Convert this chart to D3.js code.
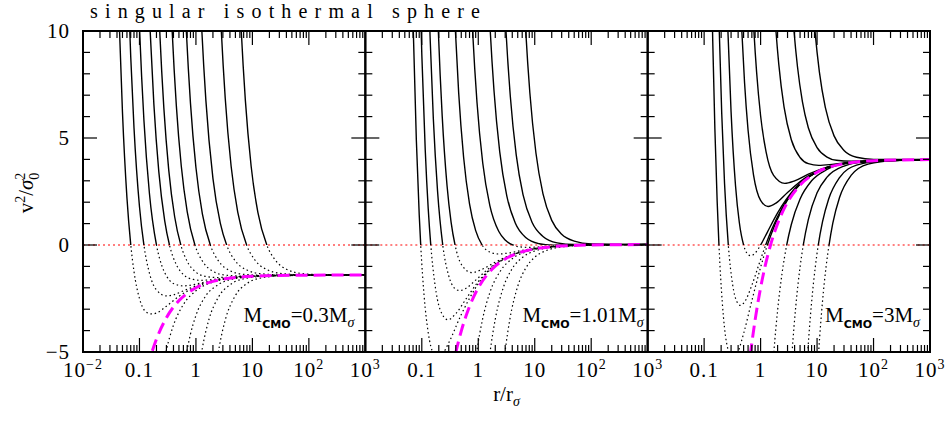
<!DOCTYPE html>
<html>
<meta charset='utf-8'>
<head>
<title>singular isothermal sphere</title>
<script src='https://d3js.org/d3.v7.min.js'></script>
<style>
body {margin: 0; background: #fff;}
text {font-family: 'Liberation Serif', 'Times New Roman', serif; fill: #000;}
</style>
</head>

<body>
<div id='my_dataviz'></div>
<script>

// central mass of each panel, in units of M_sigma
var cmoMasses = ['0.3', '1.01', '3'];

var xTickVals = [0.01, 0.1, 1, 10, 100, 1000];
var xTickText = [['10', '\u22122'], ['0.1', ''], ['1', ''], ['10', ''], ['10', '2'], ['10', '3']];
var yTickVals = [-5, 0, 5, 10];
var yTickText = ['\u22125', '0', '5', '10'];

// curves as [r/r_sigma, v^2/sigma0^2]
var p1Curves = [
  [[0.04,14.2],[0.044,10.27],[0.05,6.2],[0.06,2.21],[0.07,0.03],[0.08,-1.24],[0.1,-2.5],[0.13,-3.12],[0.165,-3.22],[0.2,-3.18],[0.3,-2.86],[0.5,-2.4],[1,-1.95],[2,-1.69],[5,-1.52],[20,-1.43],[1000,-1.4]],
  [[0.065,11.14],[0.07,8.81],[0.08,5.48],[0.1,1.8],[0.12,-0.01],[0.15,-1.31],[0.2,-2.1],[0.3,-2.38],[0.4,-2.33],[0.6,-2.14],[1,-1.91],[2,-1.68],[5,-1.52],[20,-1.43],[1000,-1.4]],
  [[0.09,13.66],[0.1,10.2],[0.12,5.82],[0.15,2.42],[0.2,0],[0.25,-0.98],[0.3,-1.44],[0.4,-1.8],[0.6,-1.91],[0.8,-1.88],[1.2,-1.78],[2,-1.66],[5,-1.51],[20,-1.43],[1000,-1.4]],
  [[0.14,12.97],[0.155,9.96],[0.18,6.57],[0.22,3.43],[0.28,1.13],[0.34,0],[0.45,-0.92],[0.6,-1.38],[0.9,-1.61],[1.22,-1.65],[2,-1.61],[4,-1.53],[10,-1.46],[30,-1.42],[1000,-1.4]],
  [[0.2,13.9],[0.23,9.83],[0.27,6.42],[0.33,3.5],[0.42,1.32],[0.54,0],[0.7,-0.76],[1,-1.27],[1.5,-1.47],[2.44,-1.52],[4,-1.5],[10,-1.45],[30,-1.42],[1000,-1.4]],
  [[0.34,13.0],[0.38,9.97],[0.45,6.5],[0.55,3.69],[0.7,1.56],[0.96,0],[1.3,-0.75],[2,-1.23],[3,-1.39],[6.2,-1.45],[15,-1.43],[50,-1.41],[1000,-1.4]],
  [[0.6,13.2],[0.68,9.87],[0.8,6.63],[1,3.62],[1.3,1.46],[1.8,0],[2.5,-0.74],[4,-1.2],[7,-1.37],[18.7,-1.42],[50,-1.41],[1000,-1.4]],
  [[1.15,12.64],[1.27,10.06],[1.5,6.76],[2,3.11],[2.7,1.02],[3.5,0],[5,-0.75],[8,-1.17],[15,-1.35],[40,-1.4],[1000,-1.4]],
  [[2.6,11.99],[2.82,9.97],[3.3,6.87],[4.2,3.68],[5.5,1.54],[7.9,0],[11,-0.69],[18,-1.15],[35,-1.34],[100,-1.4],[1000,-1.4]],
  [[5.8,12.29],[6.35,10.01],[7.5,6.77],[9.5,3.68],[12.5,1.52],[18,0],[25,-0.68],[40,-1.13],[80,-1.34],[200,-1.39],[1000,-1.4]],
  [[0.25,-5.98],[0.3,-4.91],[0.4,-3.75],[0.6,-2.78],[1,-2.14],[2,-1.73],[5,-1.53],[20,-1.43],[1000,-1.4]],
  [[0.55,-6.75],[0.65,-5.37],[0.8,-4.17],[1,-3.29],[1.5,-2.37],[2.5,-1.85],[5,-1.57],[15,-1.45],[1000,-1.4]],
  [[1.1,-6.08],[1.3,-4.82],[1.7,-3.48],[2.5,-2.44],[4,-1.86],[8,-1.55],[25,-1.43],[1000,-1.4]],
  [[2.2,-6.01],[2.6,-4.74],[3.3,-3.51],[5,-2.36],[8,-1.8],[15,-1.53],[40,-1.43],[1000,-1.4]]
];
var p1Dashed = [[0.1,-7.4],[0.15,-5.4],[0.2,-4.4],[0.3,-3.4],[0.5,-2.6],[0.7,-2.26],[1,-2.0],[1.5,-1.8],[2,-1.7],[3,-1.6],[5,-1.52],[10,-1.46],[30,-1.42],[100,-1.41],[1000,-1.4]];

var p2Curves = [
  [[0.065,14.6],[0.071,9.84],[0.08,4.93],[0.09,1.41],[0.096,-0.08],[0.11,-2.39],[0.13,-4.1],[0.16,-5.07],[0.19,-5.26],[0.23,-5.11],[0.3,-4.57],[0.5,-3.25],[1,-1.81],[2,-0.94],[5,-0.38],[20,-0.08],[100,0],[1000,0.02]],
  [[0.09,13.5],[0.1,8.92],[0.115,4.45],[0.13,1.69],[0.144,0.02],[0.17,-1.79],[0.21,-3.0],[0.29,-3.49],[0.4,-3.21],[0.6,-2.54],[1,-1.71],[2,-0.92],[5,-0.37],[20,-0.08],[100,0],[1000,0.02]],
  [[0.125,14.2],[0.14,9.77],[0.16,5.91],[0.19,2.52],[0.235,0],[0.3,-1.44],[0.38,-2.02],[0.47,-2.13],[0.6,-2.03],[0.9,-1.64],[1.5,-1.12],[3,-0.6],[8,-0.23],[30,-0.05],[100,0],[1000,0.02]],
  [[0.18,12.9],[0.196,10.04],[0.23,6.01],[0.28,2.77],[0.33,1.07],[0.388,0],[0.5,-0.9],[0.77,-1.29],[1.1,-1.17],[2,-0.8],[4,-0.44],[10,-0.17],[40,-0.03],[1000,0.02]],
  [[0.36,12.5],[0.394,10.0],[0.45,7.1],[0.55,4.1],[0.7,1.92],[0.9,0.67],[1.17,0],[1.6,-0.33],[2.3,-0.42],[3.5,-0.37],[6,-0.25],[15,-0.1],[60,-0.01],[1000,0.02]],
  [[0.72,12.47],[0.8,9.85],[0.95,6.66],[1.2,3.83],[1.6,1.85],[2.3,0.64],[3,0.23],[4.07,0],[5.5,-0.09],[7.8,-0.11],[12,-0.09],[25,-0.05],[100,0],[1000,0.02]],
  [[1.45,12.8],[1.63,10.0],[1.9,7.21],[2.4,4.35],[3.2,2.3],[4.5,1.04],[7,0.34],[12,0.06],[20,-0.01],[40,-0.01],[100,0],[1000,0.02]],
  [[2.8,12.3],[3.1,9.98],[3.7,6.93],[4.7,4.21],[6.2,2.35],[9,1.05],[14,0.4],[25,0.1],[50,0.02],[1000,0.02]],
  [[6.3,12.1],[6.93,10.0],[8.2,7.1],[10.5,4.3],[14,2.39],[20,1.15],[30,0.5],[50,0.18],[100,0.05],[1000,0.02]],
  [[0.8,-6.47],[0.94,-5.0],[1.2,-3.43],[1.6,-2.23],[2.5,-1.19],[4,-0.64],[8,-0.27],[20,-0.09],[100,0],[1000,0.02]],
  [[1.4,-6.47],[1.62,-5.0],[2,-3.47],[2.8,-1.96],[4,-1.1],[6,-0.59],[10,-0.28],[25,-0.08],[100,0],[1000,0.02]],
  [[2.6,-6.47],[2.98,-5.0],[3.6,-3.52],[5,-1.93],[7,-1.06],[10,-0.57],[16,-0.26],[30,-0.09],[100,0],[1000,0.02]]
];
var p2Dashed = [[0.3,-6.71],[0.4,-5.03],[0.5,-4.02],[0.7,-2.87],[1,-2.0],[1.5,-1.33],[2,-0.99],[3,-0.65],[5,-0.38],[10,-0.18],[20,-0.08],[50,-0.02],[100,0],[1000,0.02]];

var p3Curves = [
  [[0.13,14.9],[0.142,9.55],[0.155,5.42],[0.17,2.06],[0.183,0],[0.21,-2.71],[0.25,-4.58],[0.32,-5.34],[0.4,-4.97],[0.5,-4.14],[0.7,-2.6],[1,-1.04],[1.32,0],[1.8,0.96],[3,2.11],[6,3.03],[15,3.6],[50,3.88],[1000,3.99]],
  [[0.17,14.4],[0.186,9.89],[0.205,6.14],[0.23,2.86],[0.268,0],[0.32,-1.86],[0.38,-2.65],[0.44,-2.82],[0.52,-2.66],[0.7,-1.88],[0.95,-0.85],[1.23,0],[1.6,0.77],[2.5,1.81],[5,2.85],[12,3.51],[40,3.85],[1000,3.99]],
  [[0.24,13.7],[0.264,9.97],[0.3,6.22],[0.36,2.76],[0.42,1.05],[0.5,0],[0.58,-0.4],[0.67,-0.5],[0.8,-0.38],[1,0],[1.3,0.57],[2,1.5],[4,2.63],[10,3.42],[30,3.8],[1000,3.99]],
  [[0.42,12.9],[0.465,10.01],[0.52,7.58],[0.6,5.36],[0.75,3.27],[1,2.09],[1.36,1.8],[1.9,1.97],[3,2.45],[6,3.11],[15,3.62],[50,3.88],[1000,3.99]],
  [[0.7,11.84],[0.76,10.03],[0.85,8.07],[1,6.04],[1.25,4.35],[1.7,3.25],[2.68,2.88],[4,3.0],[7,3.31],[15,3.64],[50,3.88],[1000,3.99]],
  [[1.7,11.61],[1.87,10.0],[2.1,8.44],[2.6,6.45],[3.5,4.92],[5,4.09],[7,3.8],[10.7,3.72],[20,3.78],[50,3.89],[1000,3.99]],
  [[3.5,11.65],[3.9,10.0],[4.5,8.33],[5.5,6.7],[7,5.48],[10,4.55],[15,4.11],[22,3.96],[40,3.92],[100,3.95],[1000,3.99]],
  [[8.3,11.4],[9.2,9.97],[11,8.08],[14,6.43],[20,5.1],[30,4.42],[50,4.1],[100,4.0],[1000,4.0]],
  [[1.5,-7.22],[1.72,-4.98],[2,-3.06],[2.4,-1.32],[2.9,0],[3.5,0.96],[5,2.15],[8,3.0],[15,3.53],[40,3.84],[1000,3.99]],
  [[3.2,-7.23],[3.6,-5.06],[4.2,-2.86],[5,-1.03],[5.7,0],[7,1.19],[10,2.44],[15,3.17],[30,3.69],[80,3.91],[1000,3.99]],
  [[6.2,-6.84],[6.85,-4.97],[8,-2.68],[9.3,-1.03],[10.5,0],[12.5,1.09],[16,2.14],[25,3.15],[50,3.73],[150,3.94],[1000,4.0]],
  [[9.5,-7.27],[10.7,-4.95],[12.5,-2.62],[14.5,-0.98],[16.3,0],[19,1.02],[25,2.22],[40,3.25],[80,3.78],[250,3.96],[1000,4.0]]
];
var p3Dashed = [[0.6,-6],[0.667,-5],[0.8,-3.5],[1,-2],[1.2,-1],[1.5,0],[2,1],[3,2],[5,2.8],[10,3.4],[30,3.8],[100,3.94],[1000,3.99]];

var panels = [
  {curves: p1Curves, dashed: p1Dashed},
  {curves: p2Curves, dashed: p2Dashed},
  {curves: p3Curves, dashed: p3Dashed}
];

var W = 949, H = 424;
var margin = {top: 31, right: 19, bottom: 72, left: 83},
    pw = (W - margin.left - margin.right) / 3,
    ph = H - margin.top - margin.bottom;

var svg = d3.select('#my_dataviz')
  .append('svg')
  .attr('width', W)
  .attr('height', H);

var x = d3.scaleLog().domain([0.01, 1000]).range([0, pw]);
var y = d3.scaleLinear().domain([-5, 10]).range([ph, 0]);

var defs = svg.append('defs');
defs.append('clipPath').attr('id', 'above')
  .append('rect').attr('x', 0).attr('y', 0).attr('width', pw).attr('height', y(0));
defs.append('clipPath').attr('id', 'below')
  .append('rect').attr('x', 0).attr('y', y(0)).attr('width', pw).attr('height', ph - y(0));
defs.append('clipPath').attr('id', 'inside')
  .append('rect').attr('x', 0).attr('y', 0).attr('width', pw).attr('height', ph);

var line = d3.line()
  .x(function(d) { return x(d[0]); })
  .y(function(d) { return y(d[1]); })
  .curve(d3.curveMonotoneX);

var annotRight = [11, 4, 10];

panels.forEach(function(p, i) {
  var g = svg.append('g')
    .attr('transform', 'translate(' + (margin.left + i * pw) + ',' + margin.top + ')');

  // zero line
  g.append('line')
    .attr('x1', 0).attr('x2', pw)
    .attr('y1', y(0)).attr('y2', y(0))
    .attr('stroke', '#ff0000')
    .attr('stroke-width', 1)
    .attr('stroke-dasharray', '2,3');

  // positive part solid, negative part dotted
  g.selectAll('path.solid')
    .data(p.curves)
    .join('path')
    .attr('class', 'solid')
    .attr('d', line)
    .attr('clip-path', 'url(#above)')
    .attr('fill', 'none')
    .attr('stroke', '#000')
    .attr('stroke-width', 1.4);

  g.selectAll('path.dotted')
    .data(p.curves)
    .join('path')
    .attr('class', 'dotted')
    .attr('d', line)
    .attr('clip-path', 'url(#below)')
    .attr('fill', 'none')
    .attr('stroke', '#000')
    .attr('stroke-width', 1.2)
    .attr('stroke-dasharray', '1.5,2.8');

  g.append('path')
    .datum(p.dashed)
    .attr('d', line)
    .attr('clip-path', 'url(#inside)')
    .attr('fill', 'none')
    .attr('stroke', '#ff00ff')
    .attr('stroke-width', 3)
    .attr('stroke-dasharray', '12,6');

  // ticks
  var xt = x.ticks().filter(function(t) { return t > 0.011 && t < 990; });
  xt.forEach(function(t) {
    var lg = Math.log10(t);
    var len = Math.abs(lg - Math.round(lg)) < 1e-6 ? 14 : 7;
    g.append('line').attr('x1', x(t)).attr('x2', x(t)).attr('y1', ph).attr('y2', ph - len)
      .attr('stroke', '#000').attr('stroke-width', 1.2);
    g.append('line').attr('x1', x(t)).attr('x2', x(t)).attr('y1', 0).attr('y2', len)
      .attr('stroke', '#000').attr('stroke-width', 1.2);
  });
  d3.range(-4, 10).forEach(function(v) {
    var len = v % 5 === 0 ? 14 : 7;
    g.append('line').attr('x1', 0).attr('x2', len).attr('y1', y(v)).attr('y2', y(v))
      .attr('stroke', '#000').attr('stroke-width', 1.2);
    g.append('line').attr('x1', pw).attr('x2', pw - len).attr('y1', y(v)).attr('y2', y(v))
      .attr('stroke', '#000').attr('stroke-width', 1.2);
  });

  g.append('rect')
    .attr('width', pw).attr('height', ph)
    .attr('fill', 'none')
    .attr('stroke', '#000')
    .attr('stroke-width', 2);

  // x tick labels
  xTickVals.forEach(function(v, k) {
    if (i > 0 && k === 0) return;
    var t = g.append('text')
      .attr('x', x(v)).attr('y', ph + 25)
      .attr('text-anchor', 'middle')
      .style('font-size', '21px')
      .style('letter-spacing', '1px')
      .text(xTickText[k][0]);
    if (xTickText[k][1]) {
      t.append('tspan').attr('dy', -8).style('font-size', '14px').text(xTickText[k][1]);
    }
  });

  // mass label
  var a = g.append('text')
    .attr('x', pw - annotRight[i]).attr('y', 291)
    .attr('text-anchor', 'end')
    .style('font-size', '21px')
    .text('M');
  a.append('tspan').attr('dy', 6).style('font-size', '11px').style('font-weight', 'bold')
    .style('font-family', 'DejaVu Sans, sans-serif').text('CMO');
  a.append('tspan').attr('dy', -6).text('=' + cmoMasses[i] + 'M');
  a.append('tspan').attr('dy', 5).style('font-size', '14px').style('font-style', 'italic').text('\u03c3');
});

// y tick labels
yTickVals.forEach(function(v, k) {
  svg.append('text')
    .attr('x', 70).attr('y', margin.top + y(v) + 7)
    .attr('text-anchor', 'end')
    .style('font-size', '21px')
    .style('letter-spacing', '1px')
    .text(yTickText[k]);
});

// y title
var yl = svg.append('text')
  .attr('transform', 'translate(33,193) rotate(-90)')
  .attr('text-anchor', 'middle')
  .style('font-size', '21px')
  .text('v');
yl.append('tspan').attr('dy', -8).style('font-size', '14px').text('2');
yl.append('tspan').attr('dy', 8).text('/');
yl.append('tspan').style('font-style', 'italic').text('\u03c3');
yl.append('tspan').attr('dy', -8).style('font-size', '14px').text('2');
yl.append('tspan').attr('dx', -7).attr('dy', 14).style('font-size', '14px').text('0');

// x title
var xl = svg.append('text')
  .attr('x', margin.left + 1.5 * pw).attr('y', 401)
  .attr('text-anchor', 'middle')
  .style('font-size', '21px')
  .text('r/r');
xl.append('tspan').attr('dy', 5).style('font-size', '14px').style('font-style', 'italic').text('\u03c3');

// title
svg.append('text')
  .attr('x', 90).attr('y', 18)
  .attr('textLength', 390)
  .attr('lengthAdjust', 'spacing')
  .style('font-size', '20px')
  .text('singular isothermal sphere');

</script>
</body>
</html>
